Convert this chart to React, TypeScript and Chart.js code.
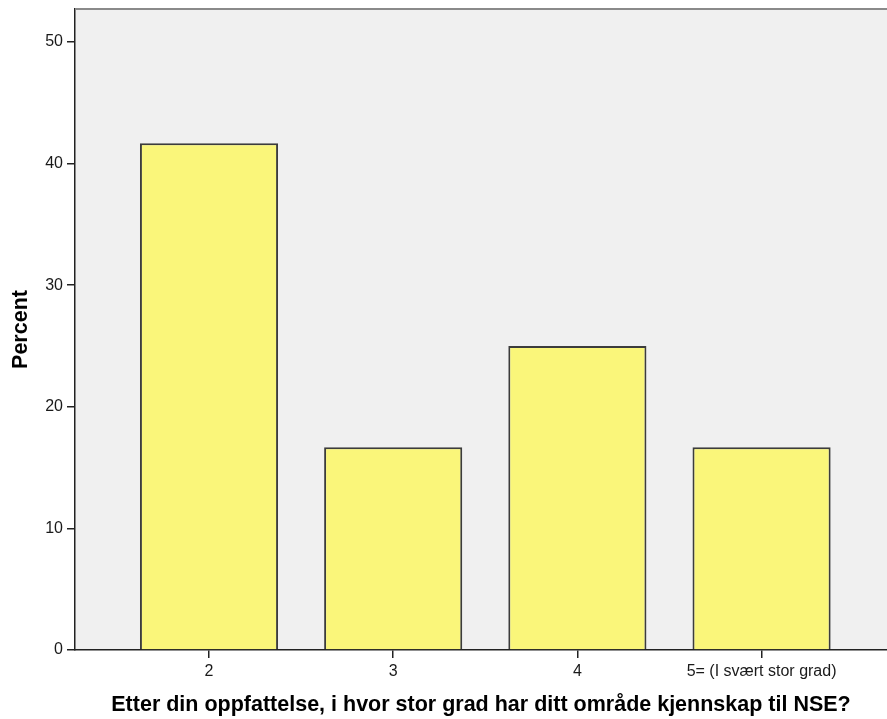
import React, { useEffect, useRef } from "react";
import { Chart, registerables } from "chart.js";

Chart.register(...registerables);

const categoryValues = [2, 3, 4, 5];
const categoryLabels = ["2", "3", "4", "5= (I svært stor grad)"];
const percentValues = [41.67, 16.67, 25.0, 16.67];
const yTicks = [0, 10, 20, 30, 40, 50];
const xTitle = "Etter din oppfattelse, i hvor stor grad har ditt område kjennskap til NSE?";
const yTitle = "Percent";

const FONT = "'Liberation Sans', Arial, sans-serif";

const plotBg = {
  id: "plotBg",
  beforeDraw(chart: any) {
    const { ctx, chartArea } = chart;
    ctx.save();
    ctx.fillStyle = "#F0F0F0";
    ctx.fillRect(chartArea.left, chartArea.top, chartArea.right - chartArea.left, chartArea.bottom - chartArea.top);
    ctx.restore();
  },
  afterDraw(chart: any) {
    const { ctx, chartArea } = chart;
    ctx.save();
    ctx.strokeStyle = "#8A8A8A";
    ctx.lineWidth = 2;
    ctx.beginPath();
    ctx.moveTo(chartArea.left, chartArea.top);
    ctx.lineTo(chartArea.right, chartArea.top);
    ctx.stroke();
    ctx.restore();
  },
};

export default function App() {
  const ref = useRef<HTMLCanvasElement | null>(null);
  useEffect(() => {
    if (!ref.current) return;
    const data = categoryValues.map((c, i) => ({ x: c, y: percentValues[i] }));
    const chart = new Chart(ref.current, {
      type: "bar",
      data: {
        datasets: [
          {
            data: data as any,
            backgroundColor: "#FAF67A",
            borderColor: "#3C3C3C",
            borderWidth: 2,
            barPercentage: 0.75,
            categoryPercentage: 1,
          },
        ],
      },
      plugins: [plotBg],
      options: {
        responsive: false,
        animation: false,
        devicePixelRatio: 1,
        layout: { padding: { top: 9, right: 0, left: 0, bottom: 0 } },
        plugins: { legend: { display: false }, tooltip: { enabled: false } },
        scales: {
          x: {
            type: "linear",
            min: 1.2725,
            max: 5.681,
            offset: false,
            afterFit(scale: any) {
              scale.height = 69;
              scale.paddingLeft = 0;
              scale.paddingRight = 0;
            },
            afterBuildTicks(scale: any) {
              scale.ticks = categoryValues.map((v) => ({ value: v }));
            },
            ticks: {
              autoSkip: false,
              maxRotation: 0,
              padding: 4,
              color: "#1A1A1A",
              font: { family: FONT, size: 16 },
              callback: (v: any) => {
                const i = categoryValues.indexOf(Number(v));
                return i >= 0 ? categoryLabels[i] : "";
              },
            },
            grid: {
              offset: false,
              drawOnChartArea: false,
              drawTicks: true,
              tickLength: 8,
              lineWidth: 1.5,
              color: "#222",
            },
            border: { display: true, color: "#222", width: 1.5 },
            title: {
              display: true,
              text: xTitle,
              color: "#000",
              font: { family: FONT, size: 21.5, weight: "bold" },
              padding: { top: 0, bottom: 1.5 },
            },
          },
          y: {
            min: 0,
            max: 52.7,
            afterFit(scale: any) {
              scale.width = 75;
              scale.paddingTop = 0;
              scale.paddingBottom = 0;
            },
            afterBuildTicks(scale: any) {
              scale.ticks = yTicks.map((v) => ({ value: v }));
            },
            ticks: {
              padding: 4,
              color: "#1A1A1A",
              font: { family: FONT, size: 16 },
            },
            grid: {
              drawOnChartArea: false,
              drawTicks: true,
              tickLength: 8,
              lineWidth: 1.5,
              color: "#222",
            },
            border: { display: true, color: "#222", width: 1.5 },
            title: {
              display: true,
              text: yTitle,
              color: "#000",
              font: { family: FONT, size: 21.5, weight: "bold" },
              padding: { top: 8.5, bottom: 0 },
            },
          },
        },
      } as any,
    });
    return () => chart.destroy();
  }, []);
  return (
    <div style={{ position: "absolute", left: 0, top: 0, width: 887, height: 719, background: "#fff" }}>
      <canvas ref={ref} width={887} height={719} />
    </div>
  );
}
